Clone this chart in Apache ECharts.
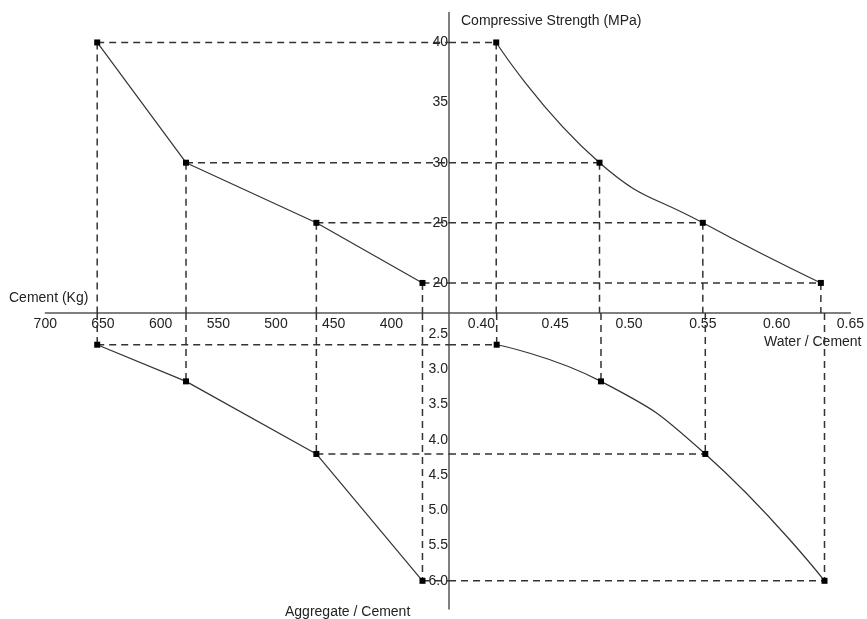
<!DOCTYPE html>
<html>
<head>
<meta charset="utf-8">
<script src="https://cdn.jsdelivr.net/npm/echarts@6/dist/echarts.min.js"></script>
<style>html,body{margin:0;padding:0;background:#fff;}#c{width:867px;height:619px;}</style>
</head>
<body>
<div id="c"></div>
<script>
// ---- data ----
const strength = [40, 30, 25, 20];           // Compressive Strength (MPa)
const cement = [655, 578, 465, 373];         // Cement (Kg)
const waterCement = [0.41, 0.48, 0.55, 0.63];// Water / Cement
const aggCement = [2.65, 3.17, 4.2, 6.0];    // Aggregate / Cement
const bottomGuide = [true, false, true, true]; // horizontal guide in lower half
const cementTicks = [400, 450, 500, 550, 600, 650, 700];
const wcTicks = [0.40, 0.45, 0.50, 0.55, 0.60, 0.65];
const strengthTicks = [20, 25, 30, 35, 40];
const acTicks = [2.5, 3.0, 3.5, 4.0, 4.5, 5.0, 5.5, 6.0];
const cementRange = [350, 700];
const wcRange = [0.378, 0.65];
const strengthRange = [17.5, 42.5];
const acRange = [2.2, 6.4];

// ---- layout ----
const CX = 449, CY = 313;
const FONT = 'Liberation Sans, Arial, sans-serif';
const TXT = '#222';
const AX = { show: true, lineStyle: { color: '#555', width: 1.5 } };

const chart = echarts.init(document.getElementById('c'));

const grids = [
  { left: CX - 403.7, top: CY - 300.6, width: 403.7, height: 300.6 },
  { left: CX, top: CY - 300.6, width: 405.3, height: 300.6 },
  { left: CX - 403.7, top: CY, width: 403.7, height: 296 },
  { left: CX, top: CY, width: 405.3, height: 296 }
];

const lbl = (vals, fmt, margin) => ({
  show: true, customValues: vals, formatter: fmt, margin: margin,
  color: TXT, fontSize: 14, fontFamily: FONT
});

const xAxes = [
  { gridIndex: 0, type: 'value', min: cementRange[0], max: cementRange[1], inverse: true,
    position: 'bottom', axisLine: AX, axisTick: { show: false }, splitLine: { show: false },
    axisLabel: lbl(cementTicks, v => String(v), 4) },
  { gridIndex: 1, type: 'value', min: wcRange[0], max: wcRange[1],
    position: 'bottom', axisLine: AX, axisTick: { show: false }, splitLine: { show: false },
    axisLabel: lbl(wcTicks, v => v.toFixed(2), 4) },
  { gridIndex: 2, type: 'value', min: cementRange[0], max: cementRange[1], inverse: true, show: false },
  { gridIndex: 3, type: 'value', min: wcRange[0], max: wcRange[1], show: false }
];
const yAxes = [
  { gridIndex: 0, type: 'value', min: strengthRange[0], max: strengthRange[1], show: false },
  { gridIndex: 1, type: 'value', min: strengthRange[0], max: strengthRange[1],
    position: 'left', axisLine: AX, axisTick: { show: false }, splitLine: { show: false },
    axisLabel: lbl(strengthTicks, v => String(v), 1) },
  { gridIndex: 2, type: 'value', min: acRange[0], max: acRange[1], inverse: true, show: false },
  { gridIndex: 3, type: 'value', min: acRange[0], max: acRange[1], inverse: true,
    position: 'left', axisLine: AX, axisTick: { show: false }, splitLine: { show: false },
    axisLabel: lbl(acTicks, v => v.toFixed(1), 1) }
];

const series = [];
const dash = (q, pts) => series.push({
  type: 'line', xAxisIndex: q, yAxisIndex: q, data: pts, symbol: 'none', silent: true,
  lineStyle: { color: '#333', width: 1.5, type: [7, 5] }, z: 1, clip: false
});
for (let i = 0; i < strength.length; i++) {
  // top-left
  dash(0, [[cement[i], strength[i]], [cementRange[0], strength[i]]]);
  dash(0, [[cement[i], strength[i]], [cement[i], strengthRange[0]]]);
  // top-right
  dash(1, [[wcRange[0], strength[i]], [waterCement[i], strength[i]]]);
  dash(1, [[waterCement[i], strength[i]], [waterCement[i], strengthRange[0]]]);
  // bottom-left
  dash(2, [[cement[i], acRange[0]], [cement[i], aggCement[i]]]);
  // bottom-right
  dash(3, [[waterCement[i], acRange[0]], [waterCement[i], aggCement[i]]]);
  if (bottomGuide[i]) {
    dash(2, [[cement[i], aggCement[i]], [cementRange[0], aggCement[i]]]);
    dash(3, [[wcRange[0], aggCement[i]], [waterCement[i], aggCement[i]]]);
  }
}
const curve = (q, pts, smooth) => series.push({
  type: 'line', xAxisIndex: q, yAxisIndex: q, data: pts, smooth: smooth,
  symbol: 'rect', symbolSize: 6, itemStyle: { color: '#000' },
  lineStyle: { color: '#333', width: 1.2 }, z: 5, clip: false
});
curve(0, cement.map((c, i) => [c, strength[i]]), false);
curve(1, waterCement.map((w, i) => [w, strength[i]]), 0.5);
curve(2, cement.map((c, i) => [c, aggCement[i]]), false);
curve(3, waterCement.map((w, i) => [w, aggCement[i]]), 0.5);

const title = (text, left, top) => ({
  type: 'text', left: left, top: top,
  style: { text: text, fill: TXT, font: '14px ' + FONT }
});

chart.setOption({
  animation: false,
  backgroundColor: '#fff',
  grid: grids,
  xAxis: xAxes,
  yAxis: yAxes,
  series: series,
  graphic: [
    title('Compressive Strength (MPa)', 461, 14),
    title('Cement (Kg)', 9, 291),
    title('Water / Cement', 764, 335),
    title('Aggregate / Cement', 285, 605)
  ]
});
</script>
</body>
</html>
